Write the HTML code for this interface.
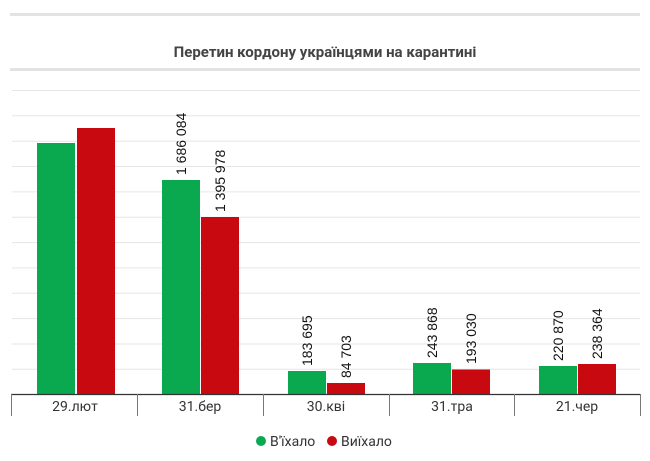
<!DOCTYPE html>
<html><head><meta charset="utf-8"><style>
body{margin:0;background:#fff;}
svg{display:block;font-family:"Roboto","Liberation Sans","DejaVu Sans",sans-serif;}
</style></head><body>
<svg width="650" height="461" viewBox="0 0 650 461">
<rect x="10" y="13" width="630" height="3" fill="#e3e3e3"/>
<text x="325" y="57" text-anchor="middle" font-size="15" font-weight="bold" fill="#444">Перетин кордону українцями на карантині</text>
<rect x="10" y="68" width="630" height="3" fill="#e3e3e3"/>
<g stroke="#e6e6e6" stroke-width="1">
<line x1="12" x2="640" y1="90.5" y2="90.5"/><line x1="12" x2="640" y1="115.8" y2="115.8"/>
<line x1="12" x2="640" y1="141.2" y2="141.2"/><line x1="12" x2="640" y1="166.5" y2="166.5"/>
<line x1="12" x2="640" y1="191.9" y2="191.9"/><line x1="12" x2="640" y1="217.2" y2="217.2"/>
<line x1="12" x2="640" y1="242.6" y2="242.6"/><line x1="12" x2="640" y1="267.9" y2="267.9"/>
<line x1="12" x2="640" y1="293.3" y2="293.3"/><line x1="12" x2="640" y1="318.6" y2="318.6"/>
<line x1="12" x2="640" y1="344" y2="344"/><line x1="12" x2="640" y1="369.3" y2="369.3"/>
</g>
<g fill="#0aa84f">
<rect x="37" y="143" width="38" height="251"/>
<rect x="162" y="180" width="38" height="214"/>
<rect x="288" y="371" width="38" height="23"/>
<rect x="413" y="363" width="38" height="31"/>
<rect x="539" y="366" width="38" height="28"/>
</g>
<g fill="#c8090f">
<rect x="77" y="128" width="38" height="266"/>
<rect x="201" y="217" width="38" height="177"/>
<rect x="327" y="383" width="38" height="11"/>
<rect x="452" y="369.5" width="38" height="24.5"/>
<rect x="578" y="364" width="38" height="30"/>
</g>
<g font-size="14" fill="#111" font-family="Liberation Sans,sans-serif">
<text transform="translate(186,175) rotate(-90)">1 686 084</text>
<text transform="translate(225,212) rotate(-90)">1 395 978</text>
<text transform="translate(312,366) rotate(-90)">183 695</text>
<text transform="translate(351,378) rotate(-90)">84 703</text>
<text transform="translate(437,358) rotate(-90)">243 868</text>
<text transform="translate(476,364) rotate(-90)">193 030</text>
<text transform="translate(563,361) rotate(-90)">220 870</text>
<text transform="translate(602,359) rotate(-90)">238 364</text>
</g>
<line x1="11" x2="640" y1="394.5" y2="394.5" stroke="#333" stroke-width="1.2"/>
<g stroke="#777" stroke-width="1">
<line x1="11.5" x2="11.5" y1="394" y2="416"/><line x1="137.5" x2="137.5" y1="394" y2="416"/>
<line x1="263.5" x2="263.5" y1="394" y2="416"/><line x1="389.5" x2="389.5" y1="394" y2="416"/>
<line x1="514.5" x2="514.5" y1="394" y2="416"/><line x1="640.5" x2="640.5" y1="394" y2="416"/>
</g>
<g font-size="14" fill="#333" text-anchor="middle">
<text x="75" y="411">29.лют</text><text x="200" y="411">31.бер</text>
<text x="326" y="411">30.кві</text><text x="452" y="411">31.тра</text>
<text x="577" y="411">21.чер</text>
</g>
<circle cx="261" cy="441" r="5" fill="#0aa84f"/>
<text x="270" y="446" font-size="14" fill="#333">В'їхало</text>
<circle cx="332" cy="441" r="5" fill="#c8090f"/>
<text x="341" y="446" font-size="14" fill="#333">Виїхало</text>
</svg>
</body></html>
